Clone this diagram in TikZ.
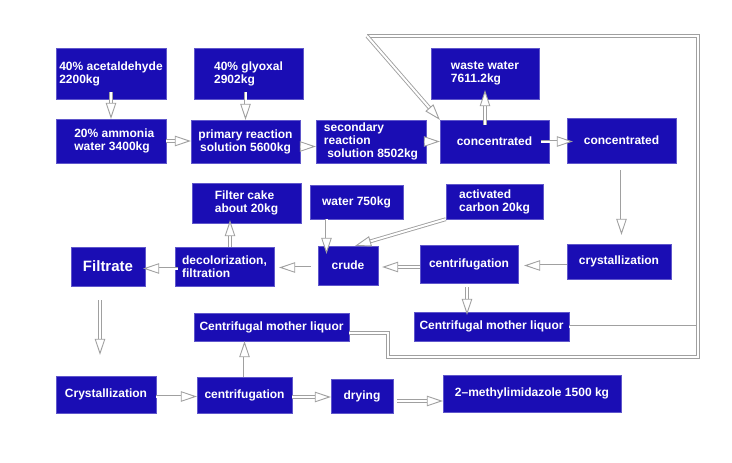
\documentclass[tikz,border=0pt]{standalone}
\usepackage{fontspec}
\setmainfont{Liberation Sans}
\usepackage{xcolor}
\usetikzlibrary{arrows.meta}
\definecolor{ProcBlue}{HTML}{1A0DB4}
\definecolor{PipeGray}{HTML}{A0A0A0}

\begin{document}
\begin{tikzpicture}[
    x=1pt, y=-1pt,
    box/.style={fill=ProcBlue, draw=ProcBlue!70!white, thin, text=white, align=left,
      font=\bfseries\fontsize{12}{13}\selectfont, inner sep=2pt},
    arr/.style={draw=PipeGray, double=white, double distance=2pt, line width=0.9pt,
      -{Triangle[open, fill=white, length=16pt, width=10.5pt]}},
    pipe/.style={draw=PipeGray, double=white, double distance=2pt, line width=0.9pt}
  ]
    \useasboundingbox (0,0) rectangle (732,463);

    % first row: feeds
    \node[box, minimum width=110, minimum height=51] (acet) at (111,73.5) {40\% acetaldehyde\\2200kg};
    \node[box, minimum width=109, minimum height=51] (glyox) at (248.5,73.5) {40\% glyoxal\\2902kg};
    \node[box, minimum width=108, minimum height=51] (waste) at (485,73.5) {waste water\\7611.2kg};

    % second row: reaction and concentration
    \node[box, minimum width=110, minimum height=44] (ammonia) at (111,141) {\ \ 20\% ammonia\\\ \ water 3400kg};
    \node[box, minimum width=109, minimum height=43, align=center] (primary) at (245.5,141.5) {primary reaction\\solution 5600kg};
    \node[box, minimum width=110, minimum height=43] (second) at (371,141.5) {secondary\\reaction\\\ solution 8502kg};
    \node[box, minimum width=109, minimum height=43] (conca) at (494.5,141.5) {concentrated};
    \node[box, minimum width=109, minimum height=45] (concb) at (621.5,140.5) {concentrated};

    % third row
    \node[box, minimum width=109, minimum height=40] (cake) at (246.5,203) {Filter cake\\about 20kg};
    \node[box, minimum width=93, minimum height=34] (water) at (356.5,202) {water 750kg};
    \node[box, minimum width=97, minimum height=35] (carbon) at (494.5,201.5) {activated\\carbon 20kg};

    % fourth row
    \node[box, minimum width=74, minimum height=39, font=\bfseries\fontsize{15}{17}\selectfont] (filtrate) at (108,266.5) {Filtrate};
    \node[box, minimum width=99, minimum height=39] (decol) at (224.5,266.5) {decolorization,\\filtration};
    \node[box, minimum width=60, minimum height=39] (crude) at (348,265.5) {crude};
    \node[box, minimum width=98, minimum height=38] (centa) at (469,264) {centrifugation};
    \node[box, minimum width=104, minimum height=35] (cryst) at (619,261.5) {crystallization};

    % mother liquors
    \node[box, minimum width=155, minimum height=28] (liqa) at (271.5,327) {Centrifugal mother liquor};
    \node[box, minimum width=155, minimum height=29] (liqb) at (491.5,326.5) {Centrifugal mother liquor};

    % last row
    \node[box, minimum width=100, minimum height=37] (crystb) at (106,394.5) {Crystallization};
    \node[box, minimum width=95, minimum height=36] (centb) at (244.5,395) {centrifugation};
    \node[box, minimum width=62, minimum height=34] (drying) at (362,396) {drying};
    \node[box, minimum width=178, minimum height=37] (product) at (532,393.5) {2--methylimidazole 1500 kg};

    % recycle loop corners
    \coordinate (loopTL) at (367,36);
    \coordinate (loopTR) at (698,36);
    \coordinate (loopBR) at (698,357);
    \coordinate (loopBL) at (388,357);

    \draw[arr, shorten <=-7pt] (acet) -- (acet.south |- ammonia.north);
    \draw[arr, shorten <=-7pt] (glyox.south -| primary.north) -- (primary.north);
    \draw[arr] (ammonia) -- (ammonia.east -| primary.west);
    \draw[arr, shorten <=-3pt] ([yshift=-5pt]primary.east) -- ([yshift=-5pt]primary.east -| second.west);
    \draw[arr, shorten <=-4pt] (second) -- (conca);
    \draw[arr, shorten <=-5pt, shorten >=-9pt] (conca.north -| waste.south) -- (waste.south);
    \draw[arr, shorten <=-8pt, shorten >=-6pt] (conca) -- (conca.east -| concb.west);
    \draw[arr, shorten <=7pt, shorten >=9pt] (concb.south) -- (concb.south |- cryst.north);
    \draw[arr, shorten >=6pt] ([yshift=-4pt]cryst.west) -- ([yshift=-4pt]cryst.west -| centa.east);
    \draw[arr, shorten >=4pt] ([yshift=-3pt]centa.west) -- ([yshift=-3pt]centa.west -| crude.east);
    \draw[arr, shorten <=4pt, shorten >=-3pt] ([xshift=-2pt]centa.south) -- ([xshift=-2pt]centa.south |- liqb.north);
    \draw[arr, shorten >=-8pt] ([xshift=-30pt]water.south) -- ([xshift=-30pt]water.south |- crude.north);
    \draw[arr] (carbon.south west) -- (crude.70);
    \draw[arr, shorten <=7pt, shorten >=5pt] ([yshift=-2pt]crude.west) -- ([yshift=-2pt]crude.west -| decol.east);
    \draw[arr, shorten >=-3pt] ([xshift=5.5pt]decol.north) -- ([xshift=5.5pt]decol.north |- cake.south);
    \draw[arr, shorten <=-3pt, shorten >=-2pt] ([yshift=-2pt]decol.west) -- ([yshift=-2pt]decol.west -| filtrate.east);
    \draw[arr, shorten <=14pt, shorten >=21pt] ([xshift=-8pt]filtrate.south) -- ([xshift=-8pt]filtrate.south |- crystb.north);
    \draw[arr] ([yshift=-2pt]crystb.east) -- ([yshift=-2pt]crystb.east -| centb.west);
    \draw[arr] (centb.north) -- (centb.north |- liqa.south);
    \draw[arr] ([yshift=-2pt]centb.east) -- ([yshift=-2pt]centb.east -| drying.west);
    \draw[arr, shorten <=4pt] ([yshift=-5pt]drying.east) -- ([yshift=-5pt]drying.east -| product.west);

    % mother liquor back to concentration
    \draw[pipe] (liqb.east) -- (liqb.east -| loopTR);
    \draw[pipe] ([yshift=-6pt]liqa.east) -- ([yshift=-6pt]liqa.east -| loopBL) -- (loopBL) -- (loopBR) -- (loopTR) -- (loopTL);
    \draw[arr] (loopTL) -- (conca.north west);
  \end{tikzpicture}
\end{document}
